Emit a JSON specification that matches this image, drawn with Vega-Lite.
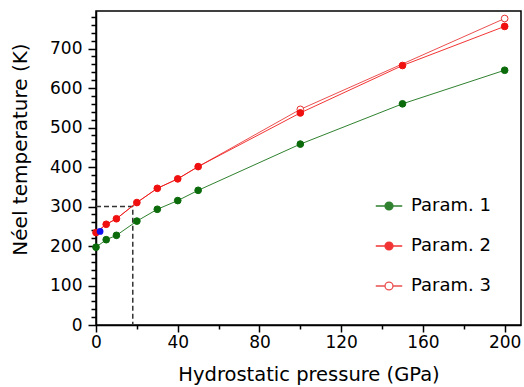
{
  "$schema": "https://vega.github.io/schema/vega-lite/v6.json",
  "autosize": "none",
  "width": 425,
  "height": 314,
  "padding": {"left": 96, "top": 11, "right": 3, "bottom": 62},
  "config": {
    "font": "DejaVu Sans",
    "view": {"stroke": "black", "strokeWidth": 1.5},
    "axis": {"grid": false, "domainColor": "black", "domainWidth": 1.5, "tickColor": "black", "tickWidth": 1.5, "labelFontSize": 17, "titleFontSize": 19.5, "titleFontWeight": "normal", "labelColor": "black", "titleColor": "black", "labelFont": "DejaVu Sans", "titleFont": "DejaVu Sans", "labelOverlap": false, "labelFlush": false}
  },
  "datasets": {
    "series": [
      {"p": 0, "t": 234, "s": "Param. 3"}, {"p": 5, "t": 255, "s": "Param. 3"}, {"p": 10, "t": 269, "s": "Param. 3"}, {"p": 20, "t": 310, "s": "Param. 3"}, {"p": 30, "t": 346, "s": "Param. 3"}, {"p": 40, "t": 370, "s": "Param. 3"}, {"p": 50, "t": 401, "s": "Param. 3"}, {"p": 100, "t": 546, "s": "Param. 3"}, {"p": 200, "t": 776, "s": "Param. 3"},
      {"p": 0, "t": 197, "s": "Param. 1"}, {"p": 5, "t": 216, "s": "Param. 1"}, {"p": 10, "t": 227, "s": "Param. 1"}, {"p": 20, "t": 263, "s": "Param. 1"}, {"p": 30, "t": 293, "s": "Param. 1"}, {"p": 40, "t": 315, "s": "Param. 1"}, {"p": 50, "t": 341, "s": "Param. 1"}, {"p": 100, "t": 458, "s": "Param. 1"}, {"p": 150, "t": 560, "s": "Param. 1"}, {"p": 200, "t": 645, "s": "Param. 1"},
      {"p": 0, "t": 234, "s": "Param. 2"}, {"p": 5, "t": 255, "s": "Param. 2"}, {"p": 10, "t": 269, "s": "Param. 2"}, {"p": 20, "t": 310, "s": "Param. 2"}, {"p": 30, "t": 346, "s": "Param. 2"}, {"p": 40, "t": 370, "s": "Param. 2"}, {"p": 50, "t": 401, "s": "Param. 2"}, {"p": 100, "t": 537, "s": "Param. 2"}, {"p": 150, "t": 657, "s": "Param. 2"}, {"p": 200, "t": 756, "s": "Param. 2"}
    ]
  },
  "resolve": {"axis": {"x": "independent", "y": "independent"}},
  "layer": [
    {
      "data": {"values": [{"p": 0, "t": 300}, {"p": 18, "t": 300}, {"p": 18, "t": 0}]},
      "mark": {"type": "line", "color": "#333333", "strokeDash": [5, 3], "strokeWidth": 1.5},
      "encoding": {
        "x": {"field": "p", "type": "quantitative", "scale": {"domain": [0, 208], "nice": false},
          "axis": {"orient": "bottom", "values": [0, 40, 80, 120, 160, 200], "title": "Hydrostatic pressure (GPa)", "titlePadding": 15, "tickSize": 7, "labelPadding": 2}},
        "y": {"field": "t", "type": "quantitative", "scale": {"domain": [0, 795], "nice": false},
          "axis": {"orient": "left", "values": [0, 100, 200, 300, 400, 500, 600, 700], "title": "Néel temperature (K)", "titleFontSize": 20, "titlePadding": 19, "titleY": 138, "tickSize": 8, "labelPadding": 6}}
      }
    },
    {
      "data": {"name": "series"},
      "mark": {"type": "line", "strokeWidth": 1, "opacity": 0.85},
      "encoding": {
        "x": {"field": "p", "type": "quantitative",
          "axis": {"orient": "bottom", "values": [20, 60, 100, 140, 180], "labels": false, "title": null, "tickSize": 4, "domain": false}},
        "y": {"field": "t", "type": "quantitative",
          "axis": {"orient": "left", "values": [20, 40, 60, 80, 120, 140, 160, 180, 220, 240, 260, 280, 320, 340, 360, 380, 420, 440, 460, 480, 520, 540, 560, 580, 620, 640, 660, 680, 720, 740, 760, 780], "labels": false, "title": null, "tickSize": 5, "domain": false}},
        "stroke": {"field": "s", "type": "nominal"},
        "order": {"field": "p", "type": "quantitative"}
      }
    },
    {
      "data": {"name": "series"},
      "transform": [{"filter": "datum.s !== 'Param. 3' || datum.p >= 100"}],
      "mark": {"type": "point", "shape": "circle", "size": 45, "strokeWidth": 1, "opacity": 1},
      "encoding": {
        "x": {"field": "p", "type": "quantitative", "axis": null},
        "y": {"field": "t", "type": "quantitative", "axis": null},
        "stroke": {"field": "s", "type": "nominal", "title": null, "scale": {"domain": ["Param. 1", "Param. 2", "Param. 3"], "range": ["#0b6b0b", "#f01010", "#e83030"]},
          "legend": {"orient": "none", "legendX": 279, "legendY": 181, "symbolType": "M-1,0H-0.3M0.3,0H1M-0.3,0A0.3,0.3 0 1 0 0.3,0A0.3,0.3 0 1 0 -0.3,0Z", "symbolSize": 700, "symbolStrokeWidth": 1.3, "labelFontSize": 18, "labelFont": "DejaVu Sans", "labelColor": "black", "rowPadding": 17, "labelOffset": 8}},
        "fill": {"field": "s", "type": "nominal", "title": null, "scale": {"domain": ["Param. 1", "Param. 2", "Param. 3"], "range": ["#0b6b0b", "#f01010", "#ffffff"]},
          "legend": {"orient": "none", "legendX": 279, "legendY": 181, "symbolType": "M-1,0H-0.3M0.3,0H1M-0.3,0A0.3,0.3 0 1 0 0.3,0A0.3,0.3 0 1 0 -0.3,0Z", "symbolSize": 700, "symbolStrokeWidth": 1.3, "labelFontSize": 18, "labelFont": "DejaVu Sans", "labelColor": "black", "rowPadding": 17, "labelOffset": 8}},
        "order": {"field": "s", "type": "nominal", "sort": "descending"}
      }
    },
    {
      "data": {"values": [{"p": 2, "t": 237}]},
      "mark": {"type": "point", "shape": "circle", "size": 45, "filled": true, "color": "#1010ee", "opacity": 1},
      "encoding": {
        "x": {"field": "p", "type": "quantitative", "axis": null},
        "y": {"field": "t", "type": "quantitative", "axis": null}
      }
    }
  ]
}
